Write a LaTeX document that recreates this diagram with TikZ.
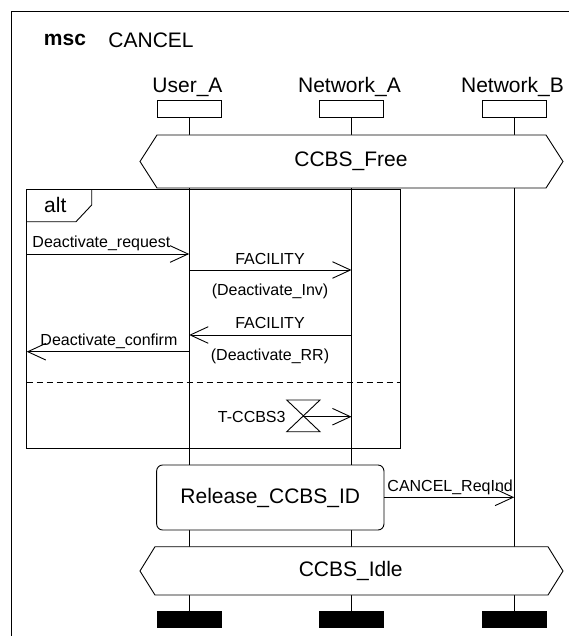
\documentclass[tikz,border=0pt]{standalone}
\usepackage{fontspec}
\setmainfont{Liberation Sans}
\usetikzlibrary{arrows.meta}
\begin{document}
\begin{tikzpicture}[x=1pt,y=-1pt, line width=0.9pt,
  big/.style={font=\fontsize{21}{25}\selectfont, inner sep=0pt},
  small/.style={font=\fontsize{16}{19}\selectfont, inner sep=0pt},
  head/.style={draw, fill=white, minimum width=64.5pt, minimum height=16.5pt, inner sep=0pt},
  endbar/.style={fill=black, minimum width=65pt, minimum height=17pt, inner sep=0pt},
  msg/.style={-{Straight Barb[length=18pt,width=16.6pt]}},
  cond/.style={draw, fill=white},
  relbox/.style={draw, fill=white, rounded corners=6pt, minimum width=227.3pt, minimum height=65pt, font=\fontsize{21}{25}\selectfont, inner sep=0pt}
]
\fill[white] (0,0) rectangle (569,636);
\useasboundingbox (0,0) rectangle (569,636);
% outer frame
\coordinate (fBL) at (11,636);
\coordinate (fTL) at (11,11);
\coordinate (fTR) at (569,11);
\draw (fBL) -- (fTL) -- (fTR);
\node[font=\bfseries\fontsize{21}{25}\selectfont, inner sep=0pt, anchor=west] (mscword) at (43.5,40) {msc};
\node[big, anchor=west] (mscname) at (108,40) {CANCEL};

% instance heads
\node[head] (hA) at (189.2,108.75) {};
\node[head] (hB) at (351.5,108.75) {};
\node[head] (hC) at (514.2,108.75) {};
\node[big, anchor=base] (lA) at (187.5,92.5) {User\_A};
\node[big, anchor=base] (lB) at (349.5,92.5) {Network\_A};
\node[big, anchor=base] (lC) at (512.5,92.5) {Network\_B};

% instance ends
\node[endbar] (eA) at (189.2,619.7) {};
\node[endbar] (eB) at (351.5,619.7) {};
\node[endbar] (eC) at (514.2,619.7) {};

% lifelines
\draw (hA.south) -- (eA.north);
\draw (hB.south) -- (eB.north);
\draw (hC.south) -- (eC.north);

% condition CCBS_Free
\draw[cond] (140,161.5) -- (157,135) -- (546,135) -- (563,161.5) -- (546,188) -- (157,188) -- cycle;
\node[big] (free) at (351,161.5) {CCBS\_Free};

% alt frame
\coordinate (altTL) at (26.7,189.3);
\coordinate (altBR) at (400,448);
\draw (altTL) rectangle (altBR);
\draw (26.7,221.7) -- (76,221.7) -- (91.7,205) -- (91.7,189.3);
\node[big] (alt) at (55.3,205) {alt};
\draw[dash pattern=on 6pt off 4pt] (26.7,382.7) -- (400,382.7);

% messages
\coordinate (reqL) at (26.7,254);
\coordinate (reqR) at (189.2,254);
\draw[msg] (reqL) -- (reqR);
\node[small, anchor=base west] (reqlab) at (32,247.5) {Deactivate\_request};

\coordinate (f1L) at (189.2,270);
\coordinate (f1R) at (351.5,270);
\draw[msg] (f1L) -- (f1R);
\node[small] (f1lab) at (270,259) {FACILITY};
\node[small] (f1par) at (270,291.7) {(Deactivate\_Inv)};

\coordinate (f2L) at (189.2,335);
\coordinate (f2R) at (351.5,335);
\draw[msg] (f2R) -- (f2L);
\node[small] (f2lab) at (270,323.3) {FACILITY};
\node[small] (f2par) at (270,356.7) {(Deactivate\_RR)};

\coordinate (cfL) at (26.7,351.7);
\coordinate (cfR) at (189.2,351.7);
\draw[msg] (cfR) -- (cfL);
\node[small, anchor=base west] (cflab) at (40,345.5) {Deactivate\_confirm};

% timer
\coordinate (tmr) at (303.3,416.7);
\coordinate (tmrR) at (351.5,416.7);
\draw (286.7,400) -- (320,400) -- (286.7,431.7) -- (320,431.7) -- cycle;
\draw[msg] (tmr) -- (tmrR);
\node[small, anchor=east] (tlab) at (286,416.7) {T-CCBS3};

% action box
\node[relbox] (rel) at (270.3,497.5) {Release\_CCBS\_ID};
\coordinate (cnR) at (514.2,497.3);
\draw[msg] (rel.east |- cnR) -- (cnR);
\node[small, anchor=base west] (cnlab) at (387,491) {CANCEL\_ReqInd};

% condition CCBS_Idle
\draw[cond] (140,571) -- (155,546.7) -- (548,546.7) -- (563,571) -- (548,595) -- (155,595) -- cycle;
\node[big] (idle) at (350.7,571) {CCBS\_Idle};
\end{tikzpicture}
\end{document}
